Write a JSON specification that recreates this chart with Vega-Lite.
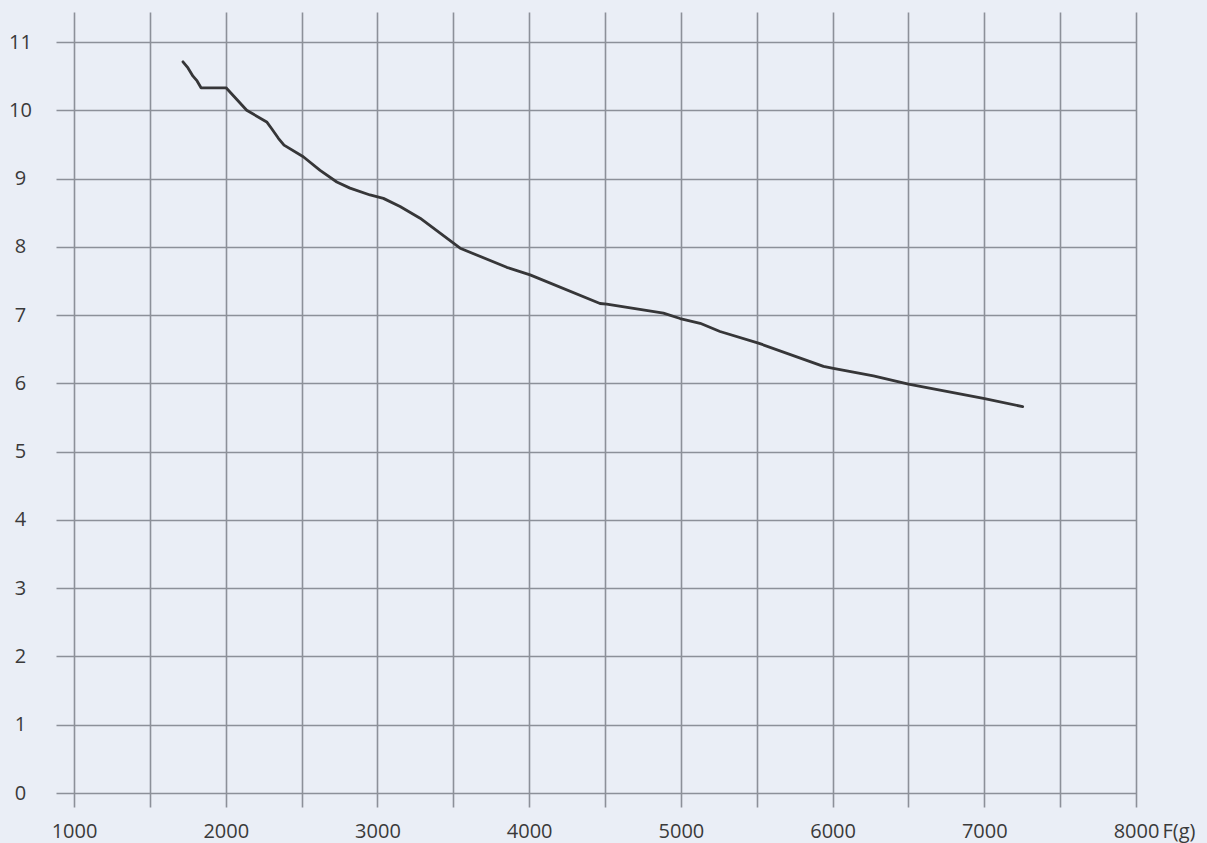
{
  "$schema": "https://vega.github.io/schema/vega-lite/v6.json",
  "width": 1080,
  "height": 795,
  "autosize": {"type": "none"},
  "padding": {"left": 56, "top": 12, "right": 71, "bottom": 36},
  "background": "#eaeef6",
  "config": {"view": {"stroke": null}},
  "data": {
    "values": [
      {"F": 1718, "v": 10.71},
      {"F": 1751, "v": 10.62},
      {"F": 1784, "v": 10.50},
      {"F": 1811, "v": 10.43},
      {"F": 1837, "v": 10.33},
      {"F": 2002, "v": 10.33},
      {"F": 2138, "v": 10.00},
      {"F": 2270, "v": 9.83},
      {"F": 2303, "v": 9.73},
      {"F": 2347, "v": 9.59},
      {"F": 2384, "v": 9.49},
      {"F": 2511, "v": 9.32},
      {"F": 2622, "v": 9.12},
      {"F": 2732, "v": 8.95},
      {"F": 2819, "v": 8.86},
      {"F": 2951, "v": 8.76},
      {"F": 3039, "v": 8.71},
      {"F": 3149, "v": 8.59},
      {"F": 3281, "v": 8.42},
      {"F": 3545, "v": 7.98},
      {"F": 3852, "v": 7.70},
      {"F": 4006, "v": 7.59},
      {"F": 4467, "v": 7.17},
      {"F": 4511, "v": 7.16},
      {"F": 4885, "v": 7.03},
      {"F": 4995, "v": 6.95},
      {"F": 5127, "v": 6.88},
      {"F": 5258, "v": 6.76},
      {"F": 5511, "v": 6.59},
      {"F": 5940, "v": 6.25},
      {"F": 6005, "v": 6.22},
      {"F": 6269, "v": 6.11},
      {"F": 6500, "v": 5.99},
      {"F": 6994, "v": 5.78},
      {"F": 7253, "v": 5.66}
    ]
  },
  "mark": {"type": "line", "stroke": "#363638", "strokeWidth": 2.8, "strokeJoin": "round", "strokeCap": "round"},
  "encoding": {
    "x": {
      "field": "F",
      "type": "quantitative",
      "scale": {"domain": [881, 8000], "nice": false, "zero": false},
      "axis": {
        "values": [1000, 1500, 2000, 2500, 3000, 3500, 4000, 4500, 5000, 5500, 6000, 6500, 7000, 7500, 8000],
        "labelExpr": "datum.value % 1000 == 0 ? datum.label : ''",
        "format": "d",
        "grid": true,
        "gridColor": "#8c9099",
        "gridWidth": 1.6,
        "gridOpacity": 1,
        "ticks": false,
        "domain": false,
        "labelFont": "Open Sans",
        "labelFontSize": 20,
        "labelColor": "#3a3a3a",
        "labelPadding": 14,
        "labelFlush": false,
        "labelOverlap": false,
        "labelBound": false,
        "title": "F(g)",
        "titleX": 1106,
        "titleY": 30,
        "titleAlign": "left",
        "titleBaseline": "alphabetic",
        "titleFont": "Open Sans",
        "titleFontSize": 20,
        "titleFontWeight": "normal",
        "titleColor": "#3a3a3a"
      }
    },
    "y": {
      "field": "v",
      "type": "quantitative",
      "scale": {"domain": [-0.205, 11.44], "nice": false, "zero": false},
      "axis": {
        "values": [0, 1, 2, 3, 4, 5, 6, 7, 8, 9, 10, 11],
        "grid": true,
        "gridColor": "#8c9099",
        "gridWidth": 1.6,
        "gridOpacity": 1,
        "ticks": false,
        "domain": false,
        "labelFont": "Open Sans",
        "labelFontSize": 20,
        "labelColor": "#3a3a3a",
        "labelAlign": "center",
        "labelBaseline": "middle",
        "labelPadding": 36,
        "title": null
      }
    }
  }
}
